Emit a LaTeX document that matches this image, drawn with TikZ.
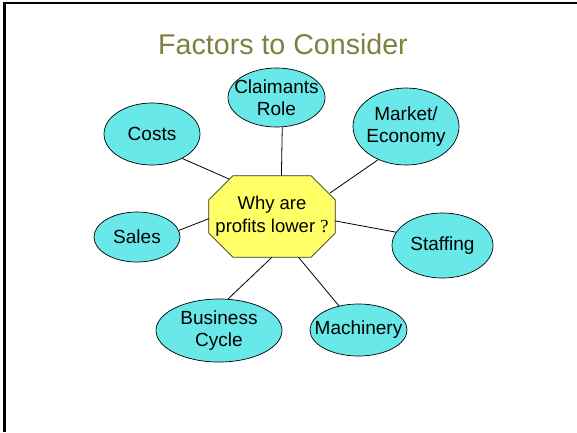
\documentclass[tikz,border=0pt]{standalone}
\usepackage{fontspec}
\setmainfont{Liberation Sans}
\newfontfamily\qmark{Liberation Serif}
\usetikzlibrary{shapes.geometric, backgrounds}

\definecolor{bubcyan}{RGB}{104,232,232}
\definecolor{hubyellow}{RGB}{255,255,102}
\definecolor{ttlolive}{RGB}{128,128,64}

\begin{document}
\begin{tikzpicture}[
  x=1pt, y=-1pt,
  bub/.style={draw, ellipse, fill=bubcyan, align=center, inner sep=-10pt,
              line width=0.7pt, font=\fontsize{19}{22}\selectfont},
  hub/.style={rectangle, align=center, inner sep=0pt,
              minimum width=126pt, minimum height=81pt,
              font=\fontsize{18.5}{23}\selectfont},
  hubframe/.style={draw=black!80, fill=hubyellow, line width=0.7pt},
  link/.style={line width=0.8pt},
  ttl/.style={font=\fontsize{28.6}{32}\selectfont, text=ttlolive, anchor=base}
]
\useasboundingbox (0,0) rectangle (577,432);
% ----- frame -----
\draw[line width=3pt] (4.4,432) -- (4.4,3.2);
\draw[line width=2.5pt] (3,3.2) -- (577,3.2);
% ----- title -----
\node[ttl] (title) at (283,54) {Factors to Consider};
% ----- centre question -----
\node[hub] (why) at (272,216.5) {Why are\\profits lower {\qmark ?}};
\begin{scope}[on background layer]
  \draw[hubframe] ([xshift=24pt]why.north west) -- ([xshift=-24pt]why.north east)
    -- ([yshift=-24pt]why.north east) -- ([yshift=24pt]why.south east)
    -- ([xshift=-24pt]why.south east) -- ([xshift=24pt]why.south west)
    -- ([yshift=24pt]why.south west) -- ([yshift=-24pt]why.north west) -- cycle;
\end{scope}
\coordinate (why-nw) at ([xshift=-43pt,yshift=37.5pt]why.center);
\coordinate (why-ne) at ([xshift=58pt,yshift=23.5pt]why.center);
% ----- factors -----
\node[bub, minimum width=96pt, minimum height=62pt] (costs) at (152,134) {Costs};
\node[bub, minimum width=97pt, minimum height=59pt] (claim) at (276.5,97.5) {Claimants\\Role};
\node[bub, minimum width=106pt, minimum height=77pt] (market) at (406,126.5) {Market/\\Economy};
\node[bub, minimum width=101pt, minimum height=65pt] (staff) at (442.5,245.5) {Staffing};
\node[bub, minimum width=86pt, minimum height=50pt] (sales) at (137,237) {Sales};
\node[bub, minimum width=126pt, minimum height=63pt] (cycle) at (219,330.5) {Business\\Cycle};
\node[bub, minimum width=97pt, minimum height=52pt] (mach) at (358.5,330) {Machinery};
% ----- spokes -----
\draw[link] (why-nw) -- (costs.-39);
\draw[link] (why.77) -- (claim.-79);
\draw[link] (why-ne) -- (market.230);
\draw[link] (why.-4.5) -- (staff.164.6);
\draw[link] (why.182) -- (sales.9);
\draw[link] (why.-90) -- (cycle.74);
\draw[link] (why.-57) -- (mach.129);
\end{tikzpicture}
\end{document}
